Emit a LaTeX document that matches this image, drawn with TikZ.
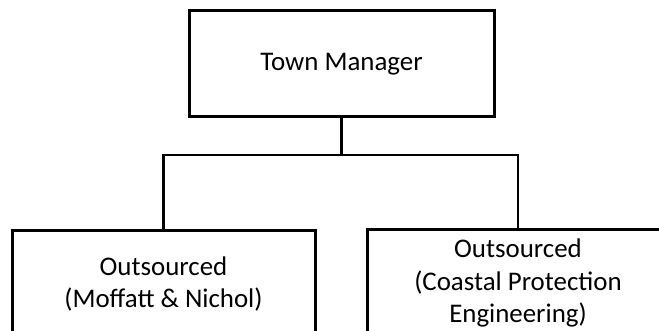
\documentclass[tikz,border=0pt]{standalone}
\usepackage{fontspec}
\setmainfont{Carlito}
\begin{document}
\begin{tikzpicture}[x=0.5pt,y=-0.5pt,
  orgbox/.style={draw=black,line width=1.5pt,fill=white,align=center,inner sep=0pt,
    font=\fontsize{13.45}{16.4}\selectfont},
  link/.style={draw=black,line width=1.3pt}]
\clip (0,0) rectangle (659,331);
\fill[white] (0,0) rectangle (659,331);
\node[orgbox,minimum width=152.5pt,minimum height=53pt] (top) at (341.5,64) {Town Manager};
\node[orgbox,minimum width=151.5pt,minimum height=53pt] (left) at (163.5,284) {Outsourced\\(Moffatt \& Nichol)};
\node[orgbox,minimum width=151pt,minimum height=53pt] (right) at (518,283) {Outsourced\\(Coastal Protection\\Engineering)};
\coordinate (j) at (341.5,155);
\draw[link] (top.south) -- (j);
\draw[link] (left.north) |- (j) -| (right.north);
\end{tikzpicture}
\end{document}
